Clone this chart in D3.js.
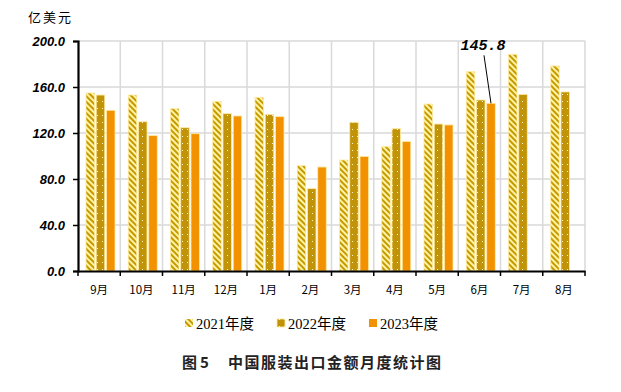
<!DOCTYPE html>
<html><head><meta charset="utf-8">
<script src="https://cdn.jsdelivr.net/npm/d3@7"></script>
<style>body{margin:0;background:#fff}svg{display:block}</style>
</head><body>
<svg id="c" width="621" height="392"></svg>
<script>
const months = ["9月","10月","11月","12月","1月","2月","3月","4月","5月","6月","7月","8月"];
const seriesNames = ["2021年度","2022年度","2023年度"];
const v2021 = [154.8,153.0,141.1,147.5,151.0,91.6,96.5,108.1,145.2,173.3,188.4,178.3];
const v2022 = [153.0,129.8,124.6,136.8,136.2,71.6,129.3,123.7,127.8,148.7,153.6,155.7];
const v2023 = [139.7,117.7,119.4,134.8,134.2,90.4,99.6,112.5,127.0,145.8,null,null];
const yTicks = [0,40,80,120,160,200];
const unitLabel = "亿美元";
const titlePrefix = "图5";
const titleText = "中国服装出口金额月度统计图";
const annotation = {month:"6月", series:2, text:"145.8"};

const svg = d3.select("#c");
const M = {l:78, r:585, t:41, b:271};
const x = d3.scaleBand().domain(months).range([M.l, M.r]).paddingInner(0).paddingOuter(0);
const y = d3.scaleLinear().domain([0,200]).range([M.b, M.t]);
const sub = d3.scaleBand().domain([0,1,2]).range([8, 37]).paddingInner(0.17);

const defs = svg.append("defs");
const p1 = defs.append("pattern").attr("id","hatch").attr("patternUnits","userSpaceOnUse")
  .attr("width",4).attr("height",4).attr("patternTransform","rotate(-45)");
p1.append("rect").attr("width",4).attr("height",4).attr("fill","#fff3a6");
p1.append("rect").attr("width",2).attr("height",4).attr("fill","#c49a00");
const p2 = defs.append("pattern").attr("id","dots").attr("patternUnits","userSpaceOnUse")
  .attr("width",5).attr("height",7);
p2.append("rect").attr("width",5).attr("height",7).attr("fill","#c09308");
p2.append("rect").attr("x",2).attr("y",3).attr("width",1).attr("height",1).attr("fill","#fff6c8");
const fills = ["url(#hatch)","url(#dots)","#f39200"];

// gridlines
svg.append("g").selectAll("line").data(yTicks.filter(d=>d>0)).join("line")
  .attr("x1",M.l).attr("x2",M.r).attr("y1",d=>y(d)).attr("y2",d=>y(d))
  .attr("stroke","#d9d9d9").attr("stroke-width",1.5);
svg.append("g").selectAll("line").data(d3.range(1, months.length+1)).join("line")
  .attr("x1",i=>M.l + x.step()*i).attr("x2",i=>M.l + x.step()*i)
  .attr("y1",M.t).attr("y2",M.b).attr("stroke","#d9d9d9").attr("stroke-width",1.5);

// bars
const allSeries = [v2021, v2022, v2023];
allSeries.forEach((vals, si) => {
  svg.append("g").selectAll("rect").data(months.map((m,i)=>({m, v:vals[i]})).filter(d=>d.v!=null)).join("rect")
    .attr("x", d=>x(d.m)+sub(si)).attr("width", sub.bandwidth())
    .attr("y", d=>y(d.v)).attr("height", d=>y(0)-y(d.v))
    .attr("fill", fills[si]).attr("stroke","#ffe9a0").attr("stroke-width",0.8);
});

// axes
const yAxis = svg.append("g").attr("transform",`translate(${M.l},0)`)
  .call(d3.axisLeft(y).tickValues(yTicks).tickFormat(d3.format(".1f")).tickSize(5).tickPadding(8));
yAxis.select(".domain").attr("stroke","#000").attr("stroke-width",2.2);
yAxis.selectAll(".tick line").attr("stroke","#000").attr("stroke-width",1.5);
yAxis.selectAll("text").attr("font-family","Liberation Sans, Arial, sans-serif")
  .attr("font-size",13).attr("font-weight","bold").attr("font-style","italic").attr("fill","#000");

const xAxis = svg.append("g").attr("transform",`translate(0,${M.b})`)
  .call(d3.axisBottom(x).tickSize(0).tickPadding(15));
xAxis.select(".domain").attr("stroke","#000").attr("stroke-width",2.2);
xAxis.selectAll("text").attr("font-family","Noto Sans CJK SC, sans-serif").attr("font-size",11.5).attr("fill","#000");
svg.append("g").selectAll("line").data(d3.range(months.length+1)).join("line")
  .attr("x1",i=>M.l+x.step()*i).attr("x2",i=>M.l+x.step()*i)
  .attr("y1",M.b).attr("y2",M.b+5).attr("stroke","#000").attr("stroke-width",1.5);

// unit label
svg.append("text").attr("x",28).attr("y",22).text(unitLabel)
  .attr("font-family","Noto Sans CJK SC, sans-serif").attr("font-size",13).attr("letter-spacing",2).attr("fill","#000");

// annotation
const am = annotation.month, av = allSeries[annotation.series][months.indexOf(am)];
const ax = x(am)+sub(annotation.series)+sub.bandwidth()/2;
svg.append("line").attr("x1",ax-7).attr("y1",y(av)-48).attr("x2",ax).attr("y2",y(av))
  .attr("stroke","#000").attr("stroke-width",1);
svg.append("text").attr("x",ax-8).attr("y",y(av)-53).attr("text-anchor","middle").text(annotation.text)
  .attr("font-family","Liberation Mono, Courier New, monospace").attr("font-size",15)
  .attr("font-weight","bold").attr("font-style","italic").attr("fill","#000");

// legend
const legX = [185, 277, 369];
const lg = svg.append("g").selectAll("g").data(seriesNames).join("g")
  .attr("transform",(d,i)=>`translate(${legX[i]},323)`);
lg.append("rect").attr("x",0).attr("y",-4).attr("width",8).attr("height",8)
  .attr("fill",(d,i)=>fills[i]).attr("stroke",(d,i)=>i==1?"#ffe9a0":"none").attr("stroke-width",0.8);
lg.append("text").attr("x",11).attr("y",5.5).text(d=>d)
  .attr("font-family","Liberation Serif, Noto Sans CJK SC, serif").attr("font-size",14.5).attr("fill","#000");

// title
const tfont = "Noto Sans CJK SC, sans-serif";
svg.append("text").attr("x",182).attr("y",368).text(titlePrefix)
  .attr("font-family",tfont).attr("font-size",15).attr("font-weight","bold")
  .attr("letter-spacing",3).attr("fill","#222");
svg.append("text").attr("x",228).attr("y",368).text(titleText)
  .attr("font-family",tfont).attr("font-size",15).attr("font-weight","bold")
  .attr("letter-spacing",1.5).attr("fill","#222");
</script>
</body></html>
